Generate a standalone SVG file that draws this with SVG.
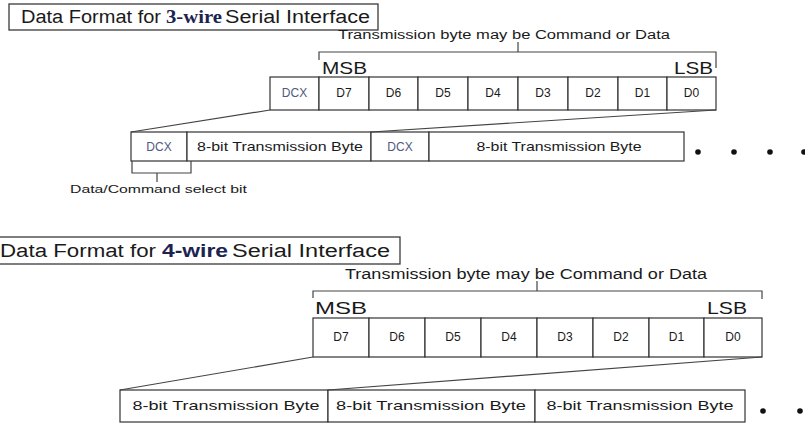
<svg xmlns="http://www.w3.org/2000/svg" width="805" height="423" viewBox="0 0 805 423">
<style>
  text { font-family: "Liberation Sans", Arial, sans-serif; fill: #1a1a1a; }
  .box { fill: #ffffff; stroke: #3a3a3a; stroke-width: 1.3; }
  .cell { fill: #ffffff; stroke: #333333; stroke-width: 1.2; }
  .ln { fill: none; stroke: #444444; stroke-width: 1.2; }
  .ttl { font-size: 18px; }
  .wire { font-weight: bold; fill: #1c2350; }
  .bit { font-size: 12px; text-anchor: middle; }
  .dcx { font-size: 12px; text-anchor: middle; fill: #4f5a80; }
  .byte { text-anchor: middle; }
  .edge { font-size: 17px; }
  .dot { fill: #111111; }
</style>
<rect width="805" height="423" fill="#ffffff"/>

<!-- ===== 3-wire section ===== -->
<g id="title-3wire">
  <rect class="box" x="9" y="4" width="369" height="26"/>
  <text class="ttl" x="21" y="23" textLength="140" lengthAdjust="spacingAndGlyphs">Data Format for</text>
  <text class="ttl wire" x="166" y="23" style="font-family:'Liberation Serif','Times New Roman',serif" textLength="56" lengthAdjust="spacingAndGlyphs">3-wire</text>
  <text class="ttl" x="225" y="23" textLength="145" lengthAdjust="spacingAndGlyphs">Serial Interface</text>
</g>

<g id="bracket-3wire">
  <text x="338" y="39" font-size="12px" textLength="332" lengthAdjust="spacingAndGlyphs">Transmission byte may be Command or Data</text>
  <path class="ln" d="M319,60 V52 H716 V68 M518,52 V42"/>
  <text class="edge" x="322" y="74" textLength="45" lengthAdjust="spacingAndGlyphs">MSB</text>
  <text class="edge" x="713" y="74" text-anchor="end" textLength="39" lengthAdjust="spacingAndGlyphs">LSB</text>
</g>

<g id="byte-3wire">
  <rect class="cell" x="270" y="77" width="49" height="33"/>
  <rect class="cell" x="319" y="77" width="50" height="33"/>
  <rect class="cell" x="369" y="77" width="49" height="33"/>
  <rect class="cell" x="418" y="77" width="50" height="33"/>
  <rect class="cell" x="468" y="77" width="50" height="33"/>
  <rect class="cell" x="518" y="77" width="50" height="33"/>
  <rect class="cell" x="568" y="77" width="50" height="33"/>
  <rect class="cell" x="618" y="77" width="49" height="33"/>
  <rect class="cell" x="667" y="77" width="49" height="33"/>
  <text class="dcx" x="294.5" y="97">DCX</text>
  <text class="bit" x="344" y="97">D7</text>
  <text class="bit" x="393.5" y="97">D6</text>
  <text class="bit" x="443" y="97">D5</text>
  <text class="bit" x="493" y="97">D4</text>
  <text class="bit" x="543" y="97">D3</text>
  <text class="bit" x="593" y="97">D2</text>
  <text class="bit" x="642.5" y="97">D1</text>
  <text class="bit" x="691.5" y="97">D0</text>
</g>

<g id="stream-3wire">
  <rect class="cell" x="131" y="132" width="56" height="29"/>
  <rect class="cell" x="187" y="132" width="184" height="29"/>
  <rect class="cell" x="371" y="132" width="58" height="29"/>
  <rect class="cell" x="429" y="132" width="255" height="29"/>
  <text class="dcx" x="159" y="151">DCX</text>
  <text class="byte" x="280" y="151" font-size="13px" textLength="166" lengthAdjust="spacingAndGlyphs">8-bit Transmission Byte</text>
  <text class="dcx" x="400" y="151">DCX</text>
  <text class="byte" x="559" y="151" font-size="13px" textLength="165" lengthAdjust="spacingAndGlyphs">8-bit Transmission Byte</text>
  <circle class="dot" cx="698" cy="152" r="2.8"/>
  <circle class="dot" cx="734" cy="152" r="2.8"/>
  <circle class="dot" cx="770" cy="152" r="2.8"/>
  <circle class="dot" cx="804" cy="152" r="2.8"/>
</g>

<g id="dcx-note">
  <path class="ln" d="M132,161 V173 H191 V161 M157,173 V182"/>
  <text x="70" y="193" font-size="11px" textLength="177" lengthAdjust="spacingAndGlyphs">Data/Command select bit</text>
</g>

<!-- ===== 4-wire section ===== -->
<g id="title-4wire">
  <rect class="box" x="-2" y="237" width="402" height="27"/>
  <text class="ttl" x="0" y="257" textLength="156" lengthAdjust="spacingAndGlyphs">Data Format for</text>
  <text class="ttl wire" x="162" y="257" textLength="66" lengthAdjust="spacingAndGlyphs">4-wire</text>
  <text class="ttl" x="232" y="257" textLength="158" lengthAdjust="spacingAndGlyphs">Serial Interface</text>
</g>

<g id="bracket-4wire">
  <text x="345" y="279" font-size="14px" textLength="362" lengthAdjust="spacingAndGlyphs">Transmission byte may be Command or Data</text>
  <path class="ln" d="M313,298 V291 H762 V299 M537,291 V281"/>
  <text class="edge" x="315" y="314" textLength="52" lengthAdjust="spacingAndGlyphs">MSB</text>
  <text class="edge" x="747" y="314" text-anchor="end" textLength="40" lengthAdjust="spacingAndGlyphs">LSB</text>
</g>

<g id="byte-4wire">
  <rect class="cell" x="313" y="318" width="56" height="39"/>
  <rect class="cell" x="369" y="318" width="56" height="39"/>
  <rect class="cell" x="425" y="318" width="56" height="39"/>
  <rect class="cell" x="481" y="318" width="56" height="39"/>
  <rect class="cell" x="537" y="318" width="56" height="39"/>
  <rect class="cell" x="593" y="318" width="56" height="39"/>
  <rect class="cell" x="649" y="318" width="55" height="39"/>
  <rect class="cell" x="704" y="318" width="58" height="39"/>
  <text class="bit" x="341" y="341">D7</text>
  <text class="bit" x="397" y="341">D6</text>
  <text class="bit" x="453" y="341">D5</text>
  <text class="bit" x="509" y="341">D4</text>
  <text class="bit" x="565" y="341">D3</text>
  <text class="bit" x="621" y="341">D2</text>
  <text class="bit" x="676.5" y="341">D1</text>
  <text class="bit" x="733" y="341">D0</text>
</g>

<g id="stream-4wire">
  <rect class="cell" x="120" y="390" width="208" height="32"/>
  <rect class="cell" x="328" y="390" width="207" height="32"/>
  <rect class="cell" x="535" y="390" width="210" height="32"/>
  <text class="byte" x="226" y="410" font-size="13.5px" textLength="187" lengthAdjust="spacingAndGlyphs">8-bit Transmission Byte</text>
  <text class="byte" x="431" y="410" font-size="13.5px" textLength="190" lengthAdjust="spacingAndGlyphs">8-bit Transmission Byte</text>
  <text class="byte" x="640" y="410" font-size="13.5px" textLength="187" lengthAdjust="spacingAndGlyphs">8-bit Transmission Byte</text>
  <circle class="dot" cx="763" cy="411" r="2.8"/>
  <circle class="dot" cx="800" cy="411" r="2.8"/>
</g>

<g id="connectors">
  <line class="ln" x1="270" y1="110" x2="131" y2="132"/>
  <line class="ln" x1="716" y1="110" x2="371" y2="132"/>
  <line class="ln" x1="313" y1="357" x2="120" y2="390"/>
  <line class="ln" x1="762" y1="357" x2="328" y2="390"/>
</g>
</svg>
